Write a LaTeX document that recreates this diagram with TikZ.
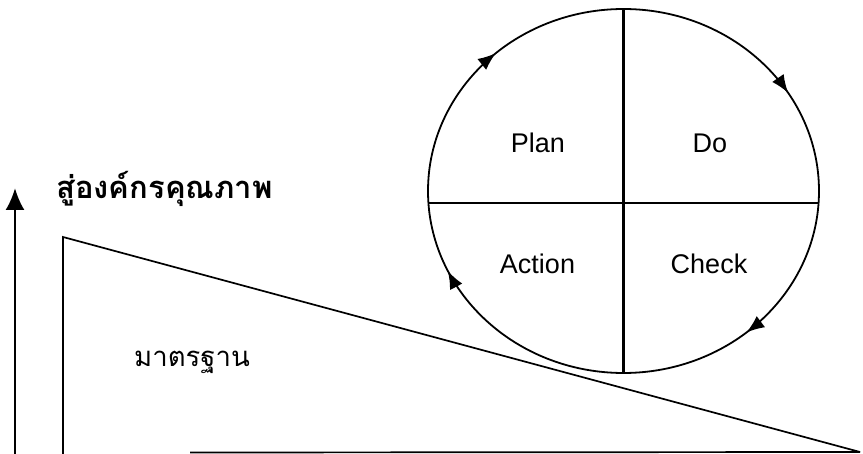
\documentclass[tikz,border=0pt]{standalone}
\usepackage{fontspec}
\setmainfont{Liberation Sans}
\newfontfamily\thaifont[Script=Thai]{Loma}
\usetikzlibrary{arrows.meta,decorations.markings}
\begin{document}
\begin{tikzpicture}[x=1pt,y=-1pt,
  lbl/.style={inner sep=0pt,font=\fontsize{27}{30}\selectfont},
  cyc/.style={line width=1.8pt},
  tri/.style={line width=1.7pt},
  cyclearrow/.style={postaction={decorate},decoration={markings,
    mark=at position 0.139 with {\arrow{Latex[length=18pt,width=14pt]}},
    mark=at position 0.43 with {\arrow{Latex[length=18pt,width=14pt]}},
    mark=at position 0.634 with {\arrow{Latex[length=18pt,width=14pt]}},
    mark=at position 0.912 with {\arrow{Latex[length=18pt,width=14pt]}}}}]
\useasboundingbox (0,0) rectangle (863,454);
% cycle
\coordinate (c) at (623.5,191);
\draw[cyc,cyclearrow] (c) ellipse (195.5 and 182);
\coordinate (ctop) at (623.5,9);
\coordinate (cbot) at (623.5,373);
\coordinate (cl) at (428.4,203);
\coordinate (cr) at (818.6,203);
\draw[line width=2.2pt] (ctop) -- (cbot);
\draw[line width=1.7pt] (cl) -- (cr);
\node[lbl] (plan) at (538,143) {Plan};
\node[lbl] (do) at (710,143) {Do};
\node[lbl] (action) at (537.5,264) {Action};
\node[lbl] (check) at (709,264) {Check};
% triangle
\coordinate (ta) at (63,237);
\coordinate (tb) at (63,454);
\coordinate (tc) at (860,452);
\coordinate (td) at (190,452.5);
\draw[tri] (tb) -- (ta) -- (tc);
\draw[tri] (td) -- (tc);
% arrow
\coordinate (ab) at (15,454);
\coordinate (at) at (15,188);
\draw[line width=2.4pt,-{Latex[length=22pt,width=19pt]}] (ab) -- (at);
% texts
\node[inner sep=0pt,anchor=west,font=\thaifont\bfseries\fontsize{31}{34}\selectfont] (title) at (56,189) {สู่องค์กรคุณภาพ};
\node[inner sep=0pt,anchor=west,font=\thaifont\fontsize{27.5}{30}\selectfont] (std) at (134,362) {มาตรฐาน};
\end{tikzpicture}
\end{document}
